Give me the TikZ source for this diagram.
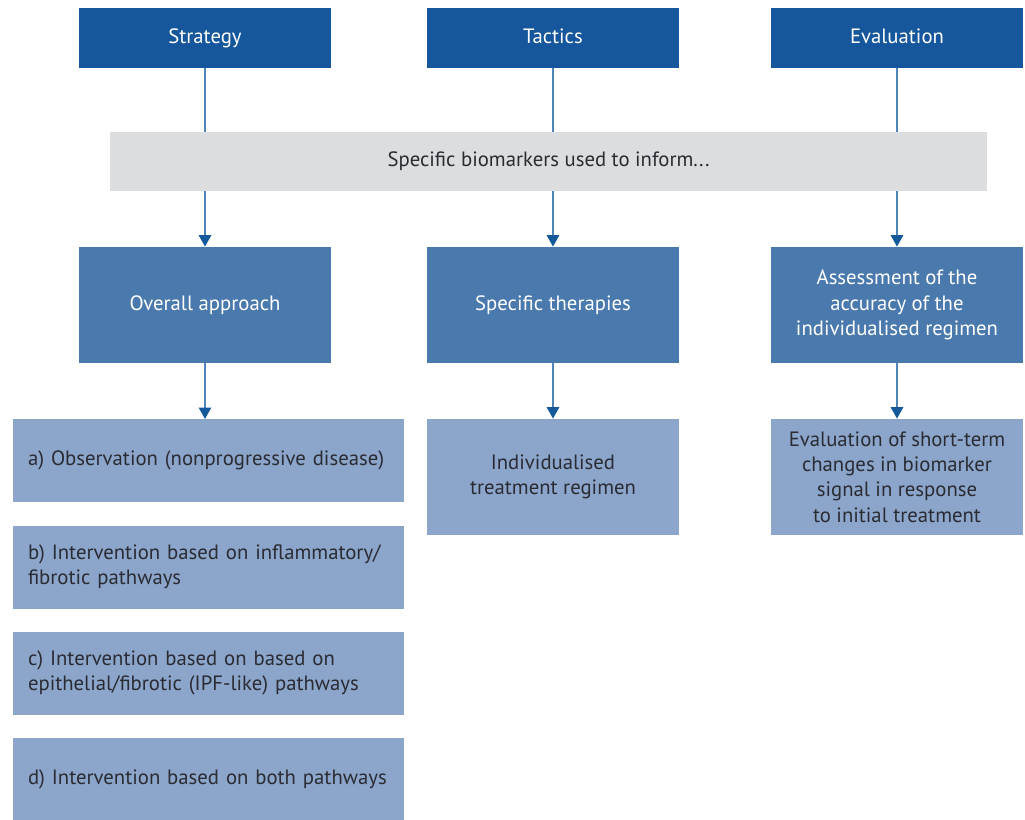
\documentclass[tikz,border=0pt]{standalone}
\usepackage{fontspec}
\setmainfont{PT Sans}
\usetikzlibrary{arrows.meta, positioning}
\definecolor{topblue}{RGB}{21, 86, 156}
\definecolor{midblue}{RGB}{73, 121, 173}
\definecolor{lowblue}{RGB}{139, 166, 202}
\definecolor{bargray}{RGB}{220, 221, 223}
\definecolor{lineblue}{RGB}{78, 134, 186}
\definecolor{tipblue}{RGB}{20, 90, 155}
\definecolor{darktext}{RGB}{43, 43, 51}

\tikzset{
  boxfont/.style={font=\fontsize{11.8}{14.4}\selectfont},
  headbox/.style={rectangle, fill=topblue, text=white, minimum width=5.04cm, minimum height=1.2cm, text height=1.6ex, text depth=0.45ex, boxfont},
  midbox/.style={rectangle, fill=midblue, text=white, minimum width=5.04cm, minimum height=2.32cm, align=center, boxfont},
  lowbox/.style={rectangle, fill=lowblue, text=darktext, minimum width=5.04cm, minimum height=2.32cm, align=center, boxfont},
  listbox/.style={rectangle, fill=lowblue, text=darktext, minimum width=7.82cm, minimum height=1.66cm, text width=7.22cm, inner xsep=0.3cm, align=left, boxfont},
  link/.style={draw=lineblue, line width=0.85pt},
  arrow/.style={link, -{Triangle[width=7pt, length=6.5pt, color=tipblue]}}
}

\begin{document}
\begin{tikzpicture}[x=0.02cm, y=-0.02cm]
\useasboundingbox (0,0) rectangle (1025,819);

% top row
\node[headbox] (strategy) at (205,38) {Strategy};
\node[headbox] (tactics) at (553,38) {Tactics};
\node[headbox] (evaluation) at (897,38) {Evaluation};

% shared bar
\node[rectangle, fill=bargray, text=darktext, minimum width=17.54cm, minimum height=1.18cm, boxfont] (inform) at (548.5,161.5) {Specific biomarkers used to inform...};

% middle row
\node[midbox] (approach) at (205,305) {Overall approach};
\node[midbox] (therapies) at (553,305) {Specific therapies};
\node[midbox] (assessment) at (897,305) {Assessment of the\\accuracy of the\\individualised regimen};

% bottom row
\node[listbox, anchor=north] (obs) at (208.5,419) {a) Observation (nonprogressive disease)};
\node[listbox, below=0.45cm of obs] (inflam) {b) Intervention based on inflammatory/\\fibrotic pathways};
\node[listbox, below=0.45cm of inflam] (epith) {c) Intervention based on based on\\epithelial/fibrotic (IPF-like) pathways};
\node[listbox, below=0.45cm of epith] (both) {d) Intervention based on both pathways};
\node[lowbox] (regimen) at (553,477) {Individualised\\treatment regimen};
\node[lowbox] (shortterm) at (897,477) {Evaluation of short-term\\changes in biomarker\\signal in response\\to initial treatment};

% connectors
\foreach \a/\b in {strategy/approach, tactics/therapies, evaluation/assessment} {
  \draw[link] (\a.south) -- (\a.south |- inform.north);
  \draw[arrow] (\a.south |- inform.south) -- (\b.north);
}
\draw[arrow] (approach.south) -- (approach.south |- obs.north);
\draw[arrow] (therapies.south) -- (regimen.north);
\draw[arrow] (assessment.south) -- (shortterm.north);
\end{tikzpicture}
\end{document}
